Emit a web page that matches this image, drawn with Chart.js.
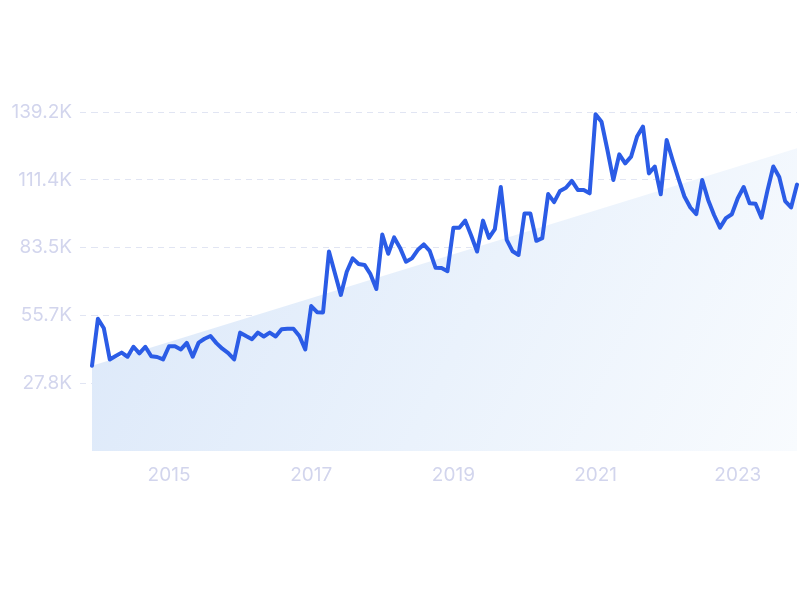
<!DOCTYPE html>
<html>
<head>
<meta charset="utf-8">
<script src="https://cdn.jsdelivr.net/npm/chart.js@4/dist/chart.umd.min.js"></script>
<style>
  html, body { margin: 0; padding: 0; background: #ffffff; }
  #wrap { width: 800px; height: 600px; position: relative; }
</style>
</head>
<body>
<div id="wrap"><canvas id="c" width="800" height="600"></canvas></div>
<script>
// Monthly values (thousands), Dec 2013 .. Nov 2023
const values = [
  35.0, 54.3, 50.4, 37.6, 39.0, 40.4, 38.7, 42.8, 40.1, 42.8, 38.9, 38.6,
  37.6, 43.0, 43.0, 41.7, 44.4, 38.7, 44.5, 46.1, 47.2, 44.3, 42.0, 40.2,
  37.6, 48.6, 47.2, 45.9, 48.6, 47.0, 48.6, 47.0, 50.0, 50.2, 50.2, 47.2,
  41.7, 59.5, 57.0, 56.9, 81.9, 73.0, 64.1, 73.6, 79.1, 76.8, 76.4, 72.6,
  66.5, 88.9, 81.0, 87.7, 83.4, 77.7, 79.1, 82.6, 84.8, 82.2, 75.2, 75.1,
  73.8, 91.7, 91.7, 94.6, 88.5, 81.9, 94.6, 87.5, 91.1, 108.4, 86.7, 82.0,
  80.5, 97.5, 97.5, 86.3, 87.4, 105.5, 102.2, 106.8, 108.1, 110.9, 107.2, 107.2,
  105.8, 138.3, 135.2, 123.6, 111.3, 121.8, 118.1, 120.9, 129.1, 133.2, 114.0, 116.8,
  105.4, 127.7, 119.5, 111.8, 104.5, 100.0, 97.3, 111.3, 103.1, 96.9, 91.7, 95.6,
  97.2, 103.8, 108.4, 101.7, 101.5, 95.8, 106.8, 116.8, 112.5, 102.6, 100.0, 109.4
];
// Trend area end points (thousands)
const trendStart = 35.0;
const trendEnd = 124.3;
// Tick labels
const yTickValues = [27.84, 55.68, 83.52, 111.36, 139.2];
const yTickLabels = ['27.8K', '55.7K', '83.5K', '111.4K', '139.2K'];
const xTickYears = ['2015', '2017', '2019', '2021', '2023'];

// Month labels
const startYear = 2013, startMonth = 12;
const months = values.map((_, i) => {
  const m0 = (startMonth - 1) + i;
  const y = startYear + Math.floor(m0 / 12);
  const m = (m0 % 12) + 1;
  return y + '-' + String(m).padStart(2, '0');
});

const tickColor = '#d2d5ed';
const gridColor = '#e1e5f3';

function trendGradient(ctx) {
  const chart = ctx.chart;
  const a = chart.chartArea;
  if (!a) return 'rgba(220,232,249,1)';
  const g = chart.ctx.createLinearGradient(a.left, a.top, a.right, a.bottom);
  g.addColorStop(0, 'rgba(218,231,249,1)');
  g.addColorStop(0.55, 'rgba(234,242,252,1)');
  g.addColorStop(1, 'rgba(248,251,254,1)');
  return g;
}

new Chart(document.getElementById('c'), {
  type: 'line',
  data: {
    labels: months,
    datasets: [
      {
        data: values,
        borderColor: '#2b5ce6',
        borderWidth: 4,
        pointRadius: 0,
        tension: 0,
        borderJoinStyle: 'round',
        borderCapStyle: 'round',
        fill: false,
        order: 0
      },
      {
        data: [
          { x: months[0], y: trendStart },
          { x: months[months.length - 1], y: trendEnd }
        ],
        borderWidth: 0,
        borderColor: 'rgba(0,0,0,0)',
        backgroundColor: trendGradient,
        pointRadius: 0,
        fill: 'origin',
        order: 1
      }
    ]
  },
  options: {
    responsive: false,
    animation: false,
    layout: { padding: { left: 10, right: 3, top: 112, bottom: 109 } },
    plugins: { legend: { display: false }, tooltip: { enabled: false } },
    scales: {
      x: {
        type: 'category',
        offset: false,
        grid: { display: false, drawTicks: false },
        border: { display: false },
        afterFit: (s) => { s.height = 40; s.paddingLeft = 0; s.paddingRight = 0; },
        ticks: {
          autoSkip: false,
          maxRotation: 0,
          minRotation: 0,
          padding: 13,
          color: tickColor,
          font: { family: 'Inter', size: 19 },
          callback: function (val, idx) {
            const lab = months[idx];
            const y = lab.slice(0, 4);
            return (lab.slice(5) === '01' && xTickYears.includes(y)) ? y : '';
          }
        }
      },
      y: {
        min: 0,
        max: 139.2,
        afterBuildTicks: (s) => { s.ticks = yTickValues.map(v => ({ value: v })); },
        afterFit: (s) => { s.width = 82; },
        border: { display: false, dash: [6, 5] },
        grid: {
          color: gridColor,
          lineWidth: 1,
          tickLength: 12,
          tickColor: gridColor,
          tickBorderDash: [6, 5],
          drawTicks: true
        },
        ticks: {
          padding: 8,
          color: tickColor,
          font: { family: 'Inter', size: 19 },
          callback: function (v) {
            const i = yTickValues.indexOf(v);
            return i >= 0 ? yTickLabels[i] : '';
          }
        }
      }
    }
  }
});
</script>
</body>
</html>
